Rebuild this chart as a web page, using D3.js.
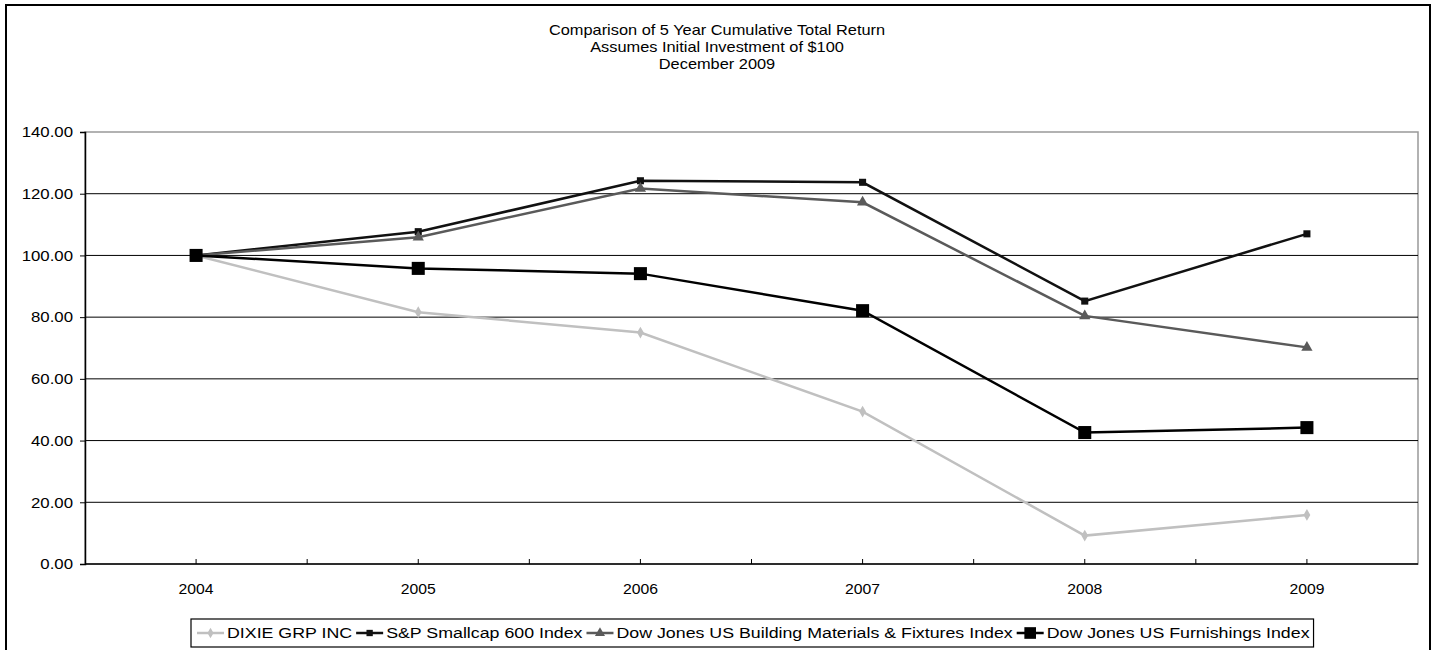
<!DOCTYPE html>
<html lang="en">
<head>
<meta charset="UTF-8">
<title>Comparison of 5 Year Cumulative Total Return</title>
<script src="https://d3js.org/d3.v7.min.js"></script>
<style>
    body { margin: 0; background: #fff; }
    svg text { font-family: Arial, "Liberation Sans", sans-serif; fill: #000; }
</style>
</head>
<body>
<svg width="1435" height="650"></svg>
<script>
// data
const years = ["2004", "2005", "2006", "2007", "2008", "2009"];
const dixie = [100, 81.6, 75.0, 49.4, 9.2, 15.9];
const smallcap = [100, 107.7, 124.2, 123.7, 85.2, 107.0];
const buildingMat = [100, 105.9, 121.7, 117.2, 80.4, 70.2];
const furnishings = [100, 95.8, 94.1, 82.1, 42.6, 44.2];
const yTicks = [0, 20, 40, 60, 80, 100, 120, 140];
const titleLines = ["Comparison of 5 Year Cumulative Total Return", "Assumes Initial Investment of $100", "December 2009"];

const series = [
    {name: "DIXIE GRP INC", values: dixie, color: "#c0c0c0", marker: "diamond", size: 40},
    {name: "S&P Smallcap 600 Index", values: smallcap, color: "#111", marker: "square", size: 50},
    {name: "Dow Jones US Building Materials & Fixtures Index", values: buildingMat, color: "#5a5a5a", marker: "triangle", size: 55},
    {name: "Dow Jones US Furnishings Index", values: furnishings, color: "#000", marker: "square", size: 170}
];

const svg = d3.select("svg");
const plotL = 85, plotR = 1418, plotT = 132, plotB = 564;
// the reference text is a little wider than Arial, stretch it sideways
const stretchTitle = 1.17, stretchLegend = 1.27, stretchTick = 1.12;

// outer frame
svg.append("rect")
    .attr("x", 6).attr("y", 5).attr("width", 1424).attr("height", 660)
    .attr("fill", "none").attr("stroke", "#000").attr("stroke-width", 2);

titleLines.forEach((t, i) => {
    svg.append("text")
        .attr("transform", `translate(717,${35 + i * 17}) scale(${stretchTitle},1)`)
        .attr("text-anchor", "middle")
        .style("font-size", "14px")
        .text(t);
});

const x = d3.scalePoint().domain(years).range([plotL, plotR]).padding(0.5);
const y = d3.scaleLinear().domain([0, 140]).range([plotB, plotT]);

// plot area border (gray)
svg.append("rect")
    .attr("x", plotL).attr("y", plotT).attr("width", plotR - plotL).attr("height", plotB - plotT)
    .attr("fill", "none").attr("stroke", "#999").attr("stroke-width", 1.5);

// gridlines
svg.append("g").selectAll("line")
    .data(yTicks.filter(d => d > 0 && d < 140))
    .join("line")
    .attr("x1", plotL).attr("x2", plotR)
    .attr("y1", d => y(d)).attr("y2", d => y(d))
    .attr("stroke", "#000").attr("stroke-width", 1);

// y axis
const yAxis = svg.append("g")
    .attr("transform", `translate(${plotL},0)`)
    .call(d3.axisLeft(y).tickValues(yTicks).tickFormat(d3.format(".2f")).tickSize(5).tickPadding(5));
yAxis.select(".domain").attr("stroke", "#000").attr("stroke-width", 1.5);
yAxis.selectAll(".tick text")
    .attr("x", null)
    .attr("transform", `translate(-12,0) scale(${stretchTick},1)`)
    .style("font-size", "15px");

// x axis: baseline, ticks at centres and band edges pointing up, labels
const step = x.step();
const xTickPos = [];
years.forEach(yr => { xTickPos.push(x(yr)); xTickPos.push(x(yr) + step / 2); });
const xAxis = svg.append("g");
xAxis.append("line")
    .attr("x1", plotL).attr("x2", plotR).attr("y1", plotB).attr("y2", plotB)
    .attr("stroke", "#000").attr("stroke-width", 1.5);
xAxis.selectAll("line.tick")
    .data(xTickPos.filter(p => p < plotR - 1))
    .join("line").attr("class", "tick")
    .attr("x1", d => d).attr("x2", d => d)
    .attr("y1", plotB).attr("y2", plotB - 5)
    .attr("stroke", "#000");
xAxis.selectAll("text")
    .data(years)
    .join("text")
    .attr("transform", d => `translate(${x(d)},${plotB + 30}) scale(1.05,1)`)
    .attr("text-anchor", "middle")
    .style("font-size", "15px")
    .text(d => d);

function markerPath(type, size) {
    const sym = type === "diamond" ? d3.symbolDiamond : type === "triangle" ? d3.symbolTriangle : d3.symbolSquare;
    return d3.symbol().type(sym).size(size)();
}

const line = d3.line().x((d, i) => x(years[i])).y(d => y(d));

series.forEach(s => {
    const g = svg.append("g");
    g.append("path")
        .attr("d", line(s.values))
        .attr("fill", "none")
        .attr("stroke", s.color)
        .attr("stroke-width", 2.5);
    g.selectAll("path.m")
        .data(s.values)
        .join("path").attr("class", "m")
        .attr("d", markerPath(s.marker, s.size))
        .attr("transform", (d, i) => `translate(${x(years[i])},${y(d)})`)
        .attr("fill", s.color);
});

// legend
const legend = svg.append("g");
const legBox = legend.append("rect")
    .attr("fill", "#fff").attr("stroke", "#000").attr("stroke-width", 1.2);
let cx = 197;
const ly = 633;
series.forEach(s => {
    legend.append("line")
        .attr("x1", cx).attr("x2", cx + 27).attr("y1", ly).attr("y2", ly)
        .attr("stroke", s.color).attr("stroke-width", 2.5);
    legend.append("path")
        .attr("d", markerPath(s.marker, s.size * 0.8))
        .attr("transform", `translate(${cx + 13.5},${ly})`)
        .attr("fill", s.color);
    const t = legend.append("text")
        .attr("transform", `translate(${cx + 30},${ly + 5}) scale(${stretchLegend},1)`)
        .style("font-size", "14px")
        .text(s.name);
    cx += 30 + t.node().getComputedTextLength() * stretchLegend + 4;
});
legBox.attr("x", 191).attr("y", 619).attr("width", cx - 191).attr("height", 28);
</script>
</body>
</html>
